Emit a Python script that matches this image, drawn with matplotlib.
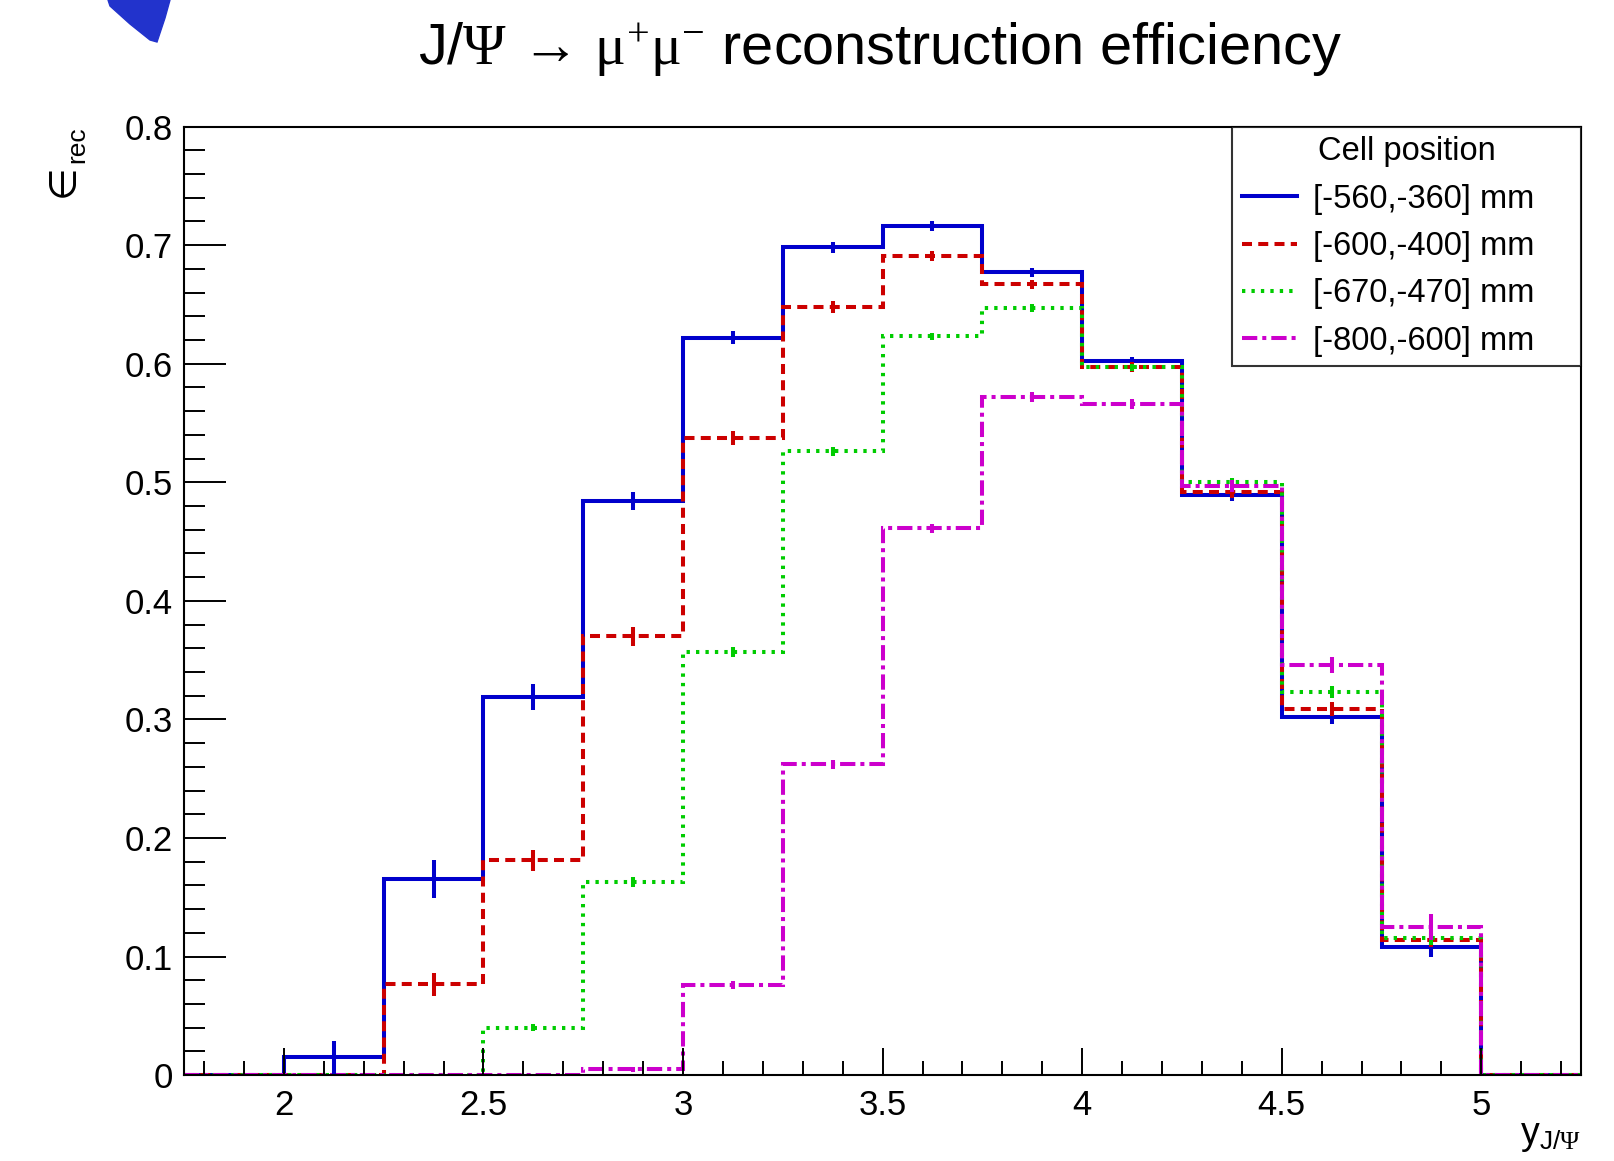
import numpy as np
import matplotlib
matplotlib.use("Agg")
import matplotlib.pyplot as plt
from matplotlib.patches import Polygon
from matplotlib.ticker import MultipleLocator

plt.rcParams['font.family'] = ['Liberation Sans', 'DejaVu Sans']
plt.rcParams['mathtext.fontset'] = 'custom'
plt.rcParams['mathtext.rm'] = 'Liberation Serif'
plt.rcParams['mathtext.it'] = 'Liberation Serif'
plt.rcParams['mathtext.sf'] = 'Liberation Sans'
plt.rcParams['lines.scale_dashes'] = False

# ---- data ----
edges = np.arange(1.75, 5.2501, 0.25)
labels = ["[-560,-360] mm", "[-600,-400] mm", "[-670,-470] mm", "[-800,-600] mm"]
eff_560 = [0, 0.015, 0.165, 0.319, 0.484, 0.622, 0.698, 0.716, 0.677, 0.602, 0.489, 0.302, 0.108, 0]
err_560 = [0, 0.014, 0.016, 0.011, 0.0077, 0.0058, 0.0045, 0.004, 0.004, 0.004, 0.005, 0.006, 0.0084, 0]
eff_600 = [0, 0, 0.0765, 0.181, 0.370, 0.537, 0.648, 0.691, 0.667, 0.597, 0.492, 0.309, 0.114, 0]
err_600 = [0, 0, 0.010, 0.0086, 0.0077, 0.006, 0.005, 0.004, 0.004, 0.004, 0.005, 0.006, 0.006, 0]
eff_670 = [0, 0, 0, 0.040, 0.163, 0.357, 0.526, 0.623, 0.647, 0.597, 0.500, 0.323, 0.116, 0]
err_670 = [0, 0, 0, 0.003, 0.004, 0.004, 0.004, 0.003, 0.003, 0.003, 0.004, 0.005, 0.006, 0]
eff_800 = [0, 0, 0, 0, 0.005, 0.076, 0.262, 0.461, 0.572, 0.566, 0.497, 0.346, 0.125, 0]
err_800 = [0, 0, 0, 0, 0.002, 0.003, 0.004, 0.004, 0.004, 0.004, 0.005, 0.007, 0.011, 0]

series = [eff_560, eff_600, eff_670, eff_800]
errors = [err_560, err_600, err_670, err_800]
colors = ['#0000cc', '#cc0000', '#00cc00', '#cc00cc']
styles = ['-', (0, (7.2, 4.5)), (0, (2.4, 4.4)), (0, (11, 3.6, 2.9, 3.6))]
widths = [2.9, 2.9, 2.9, 2.9]

fig = plt.figure(figsize=(16.15, 11.61), dpi=100)
ax = fig.add_axes([0.114, 0.074, 0.865, 0.817])

centers = 0.5 * (edges[:-1] + edges[1:])
for vals, errs, c, ls, lw, lab in zip(series, errors, colors, styles, widths, labels):
    vals = np.array(vals)
    errs = np.array(errs)
    ax.stairs(vals, edges, baseline=None, color=c, linestyle=ls, linewidth=lw, label=lab)
    m = errs > 0
    ax.vlines(centers[m], vals[m] - errs[m], vals[m] + errs[m], colors=c, linewidth=lw)

ax.set_xlim(1.75, 5.25)
ax.set_ylim(0, 0.8)
ax.xaxis.set_major_locator(MultipleLocator(0.5))
ax.xaxis.set_minor_locator(MultipleLocator(0.1))
ax.yaxis.set_major_locator(MultipleLocator(0.1))
ax.yaxis.set_minor_locator(MultipleLocator(0.02))
ax.tick_params(axis='x', which='major', direction='in', length=19.4, width=1.4, labelsize=25, pad=10)
ax.tick_params(axis='x', which='minor', direction='in', length=10, width=1.4)
ax.tick_params(axis='y', which='major', direction='in', length=30, width=1.4, labelsize=25, pad=8)
ax.tick_params(axis='y', which='minor', direction='in', length=15, width=1.4)
ax.xaxis.set_major_formatter(matplotlib.ticker.FuncFormatter(lambda v, p: ('%g' % v)))
ax.yaxis.set_major_formatter(matplotlib.ticker.FuncFormatter(lambda v, p: ('%g' % v)))
for s in ax.spines.values():
    s.set_linewidth(1.5)

leg = ax.legend(title="Cell position", loc='upper left', bbox_to_anchor=(0.750, 0.752, 0.250, 0.248),
                mode='expand', borderaxespad=0, fontsize=23.5, title_fontsize=23.5, frameon=True,
                fancybox=False, edgecolor='black', handlelength=1.7, handletextpad=0.5,
                borderpad=0.3, labelspacing=0.5)
leg.get_frame().set_linewidth(1.5)

ax.text(1.0, -0.045, r"y$_{\mathsf{J/}\mathrm{\Psi}}$", transform=ax.transAxes,
        ha='right', va='top', fontsize=27)
# y-axis title: epsilon_rec (drawn as element-of sign with subscript)
ax.text(-0.086, 0.960, "∈", transform=ax.transAxes, rotation=90,
        ha='center', va='top', fontsize=27, family=['DejaVu Sans'])
ax.text(-0.0765, 1.0, "rec", transform=ax.transAxes, rotation=90,
        ha='center', va='top', fontsize=19)

fig.text(0.545, 0.958, r"J/$\mathrm{\Psi}$ → $\mathrm{\mu}^{+}\mathrm{\mu}^{-}$ reconstruction efficiency",
         ha='center', va='center', fontsize=41.5)

blob = Polygon([[108 / 1615, 1.0], [170 / 1615, 1.0], [165 / 1615, 1 - 18 / 1161],
                [157 / 1615, 1 - 42 / 1161], [150 / 1615, 1 - 40 / 1161],
                [130 / 1615, 1 - 24 / 1161], [110 / 1615, 1 - 6 / 1161]],
               closed=True, transform=fig.transFigure, facecolor='#2233cc',
               edgecolor='#2233cc')
fig.add_artist(blob)

fig.savefig("out.png", dpi=100)
